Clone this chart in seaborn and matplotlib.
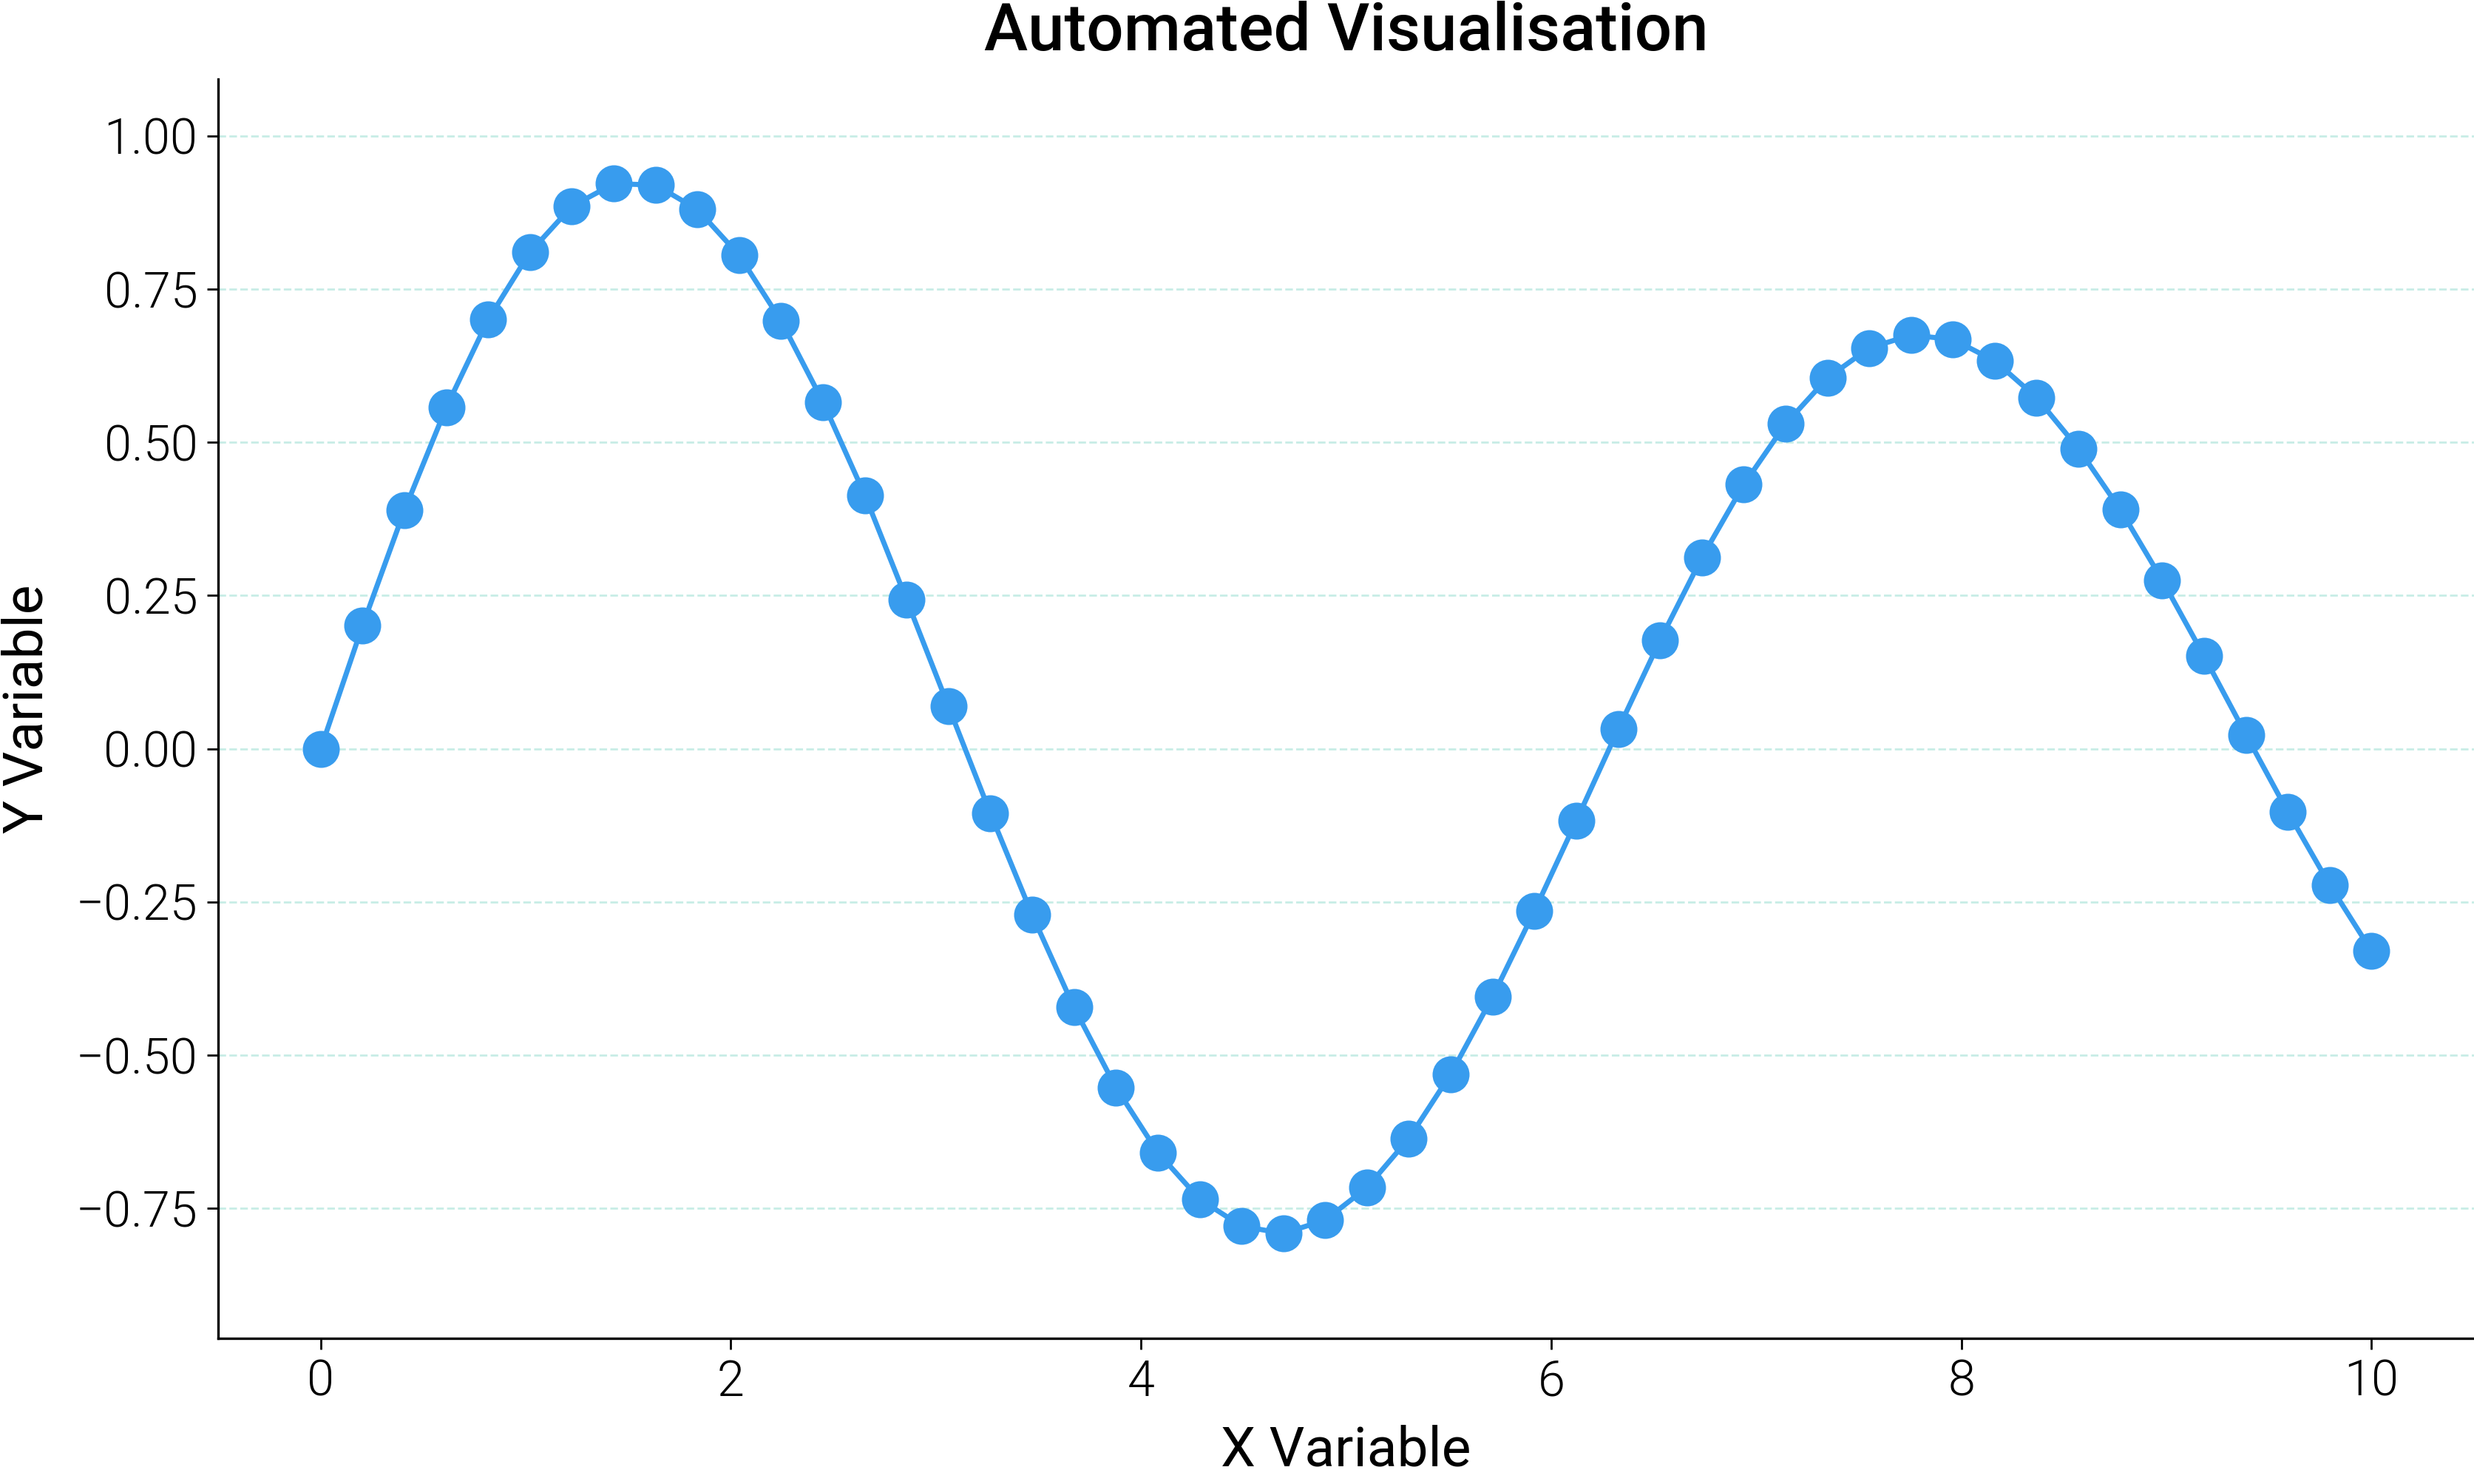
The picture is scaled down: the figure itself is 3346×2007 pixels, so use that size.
import matplotlib
matplotlib.use("Agg")
import matplotlib.pyplot as plt
import pandas as pd
import seaborn as sns

# values (50 evenly spaced samples)
x_vals = [
    0.000, 0.204, 0.408, 0.612, 0.816, 1.020, 1.224, 1.429, 1.633, 1.837,
    2.041, 2.245, 2.449, 2.653, 2.857, 3.061, 3.265, 3.469, 3.673, 3.878,
    4.082, 4.286, 4.490, 4.694, 4.898, 5.102, 5.306, 5.510, 5.714, 5.918,
    6.122, 6.327, 6.531, 6.735, 6.939, 7.143, 7.347, 7.551, 7.755, 7.959,
    8.163, 8.367, 8.571, 8.776, 8.980, 9.184, 9.388, 9.592, 9.796, 10.000,
]
y_vals = [
    0.000, 0.201, 0.389, 0.557, 0.700, 0.810, 0.885, 0.922, 0.920, 0.880,
    0.805, 0.698, 0.566, 0.414, 0.243, 0.069, -0.105, -0.271, -0.422, -0.553,
    -0.659, -0.735, -0.779, -0.791, -0.769, -0.716, -0.636, -0.531, -0.405, -0.265,
    -0.118, 0.032, 0.177, 0.312, 0.431, 0.530, 0.605, 0.654, 0.675, 0.668,
    0.633, 0.573, 0.490, 0.390, 0.275, 0.151, 0.023, -0.103, -0.222, -0.330,
]
title = "Automated Visualisation"
x_label = "X Variable"
y_label = "Y Variable"

LINE_COLOR = "#389CEE"
GRID_COLOR = "#C8EDE6"

df = pd.DataFrame({"x": x_vals, "y": y_vals})

sns.set_theme(style="ticks")
plt.rcParams["font.family"] = ["Roboto", "DejaVu Sans"]

fig = plt.figure(figsize=(16.73, 10.035), dpi=200)
ax = fig.add_axes([0.0882, 0.0982, 0.9118, 0.8486])

sns.lineplot(data=df, x="x", y="y", ax=ax, color=LINE_COLOR, linewidth=2.5,
             marker="o", markersize=18, markeredgewidth=0, zorder=3)

ax.set_xlim(-0.5, 10.5)
ax.set_ylim(-0.962, 1.093)
ax.set_xticks([0, 2, 4, 6, 8, 10])
ax.set_yticks([-0.75, -0.5, -0.25, 0.0, 0.25, 0.5, 0.75, 1.0])
ax.set_yticklabels([f"{v:.2f}".replace("-", "\u2212") for v in ax.get_yticks()])

ax.yaxis.grid(True, linestyle="--", linewidth=1.0, color=GRID_COLOR, zorder=0)
ax.xaxis.grid(False)
sns.despine(ax=ax)
for side in ["left", "bottom"]:
    ax.spines[side].set_linewidth(1.2)
    ax.spines[side].set_color("black")

ax.tick_params(axis="both", length=5.5, width=1.0, color="black",
               labelsize=24, labelcolor="black", pad=4.5)
for lab in ax.get_xticklabels() + ax.get_yticklabels():
    lab.set_fontweight(300)

ax.set_xlabel(x_label, fontsize=27, labelpad=9, color="black")
ax.set_ylabel(y_label, fontsize=27, labelpad=11, color="black")
ax.set_title(title, fontsize=32, fontweight=500, pad=14, color="black")

fig.savefig("out.png", dpi=200)
